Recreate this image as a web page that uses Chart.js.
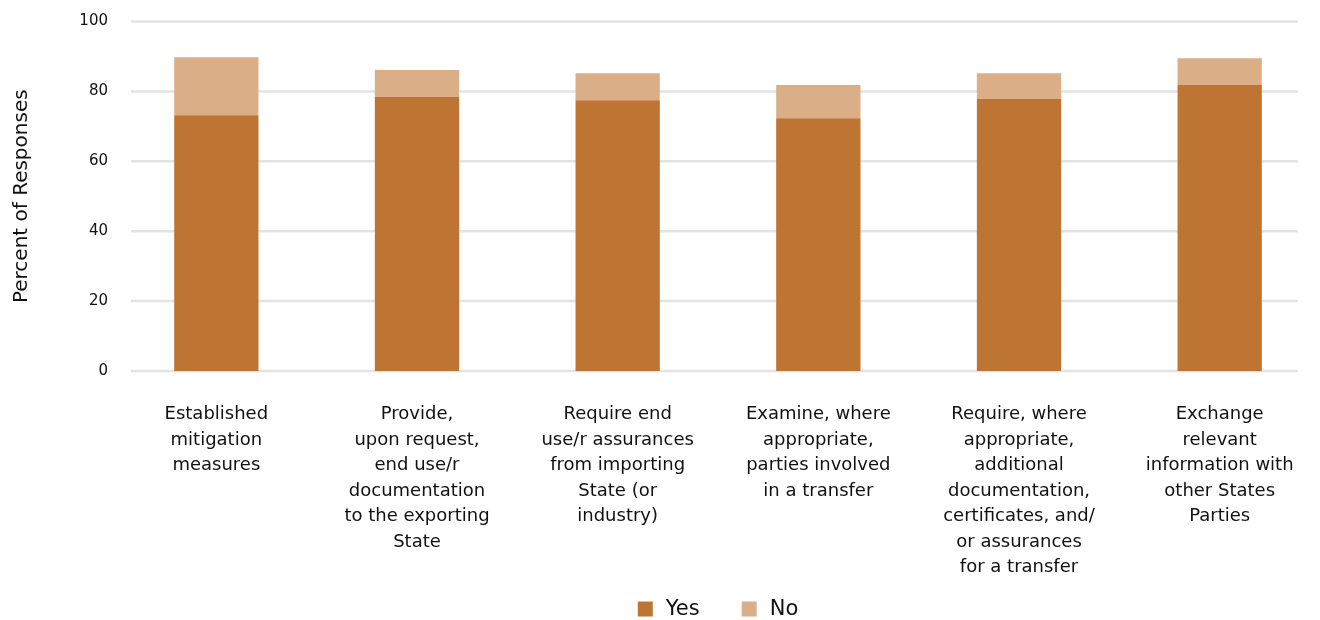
<!DOCTYPE html>
<html>
<head>
<meta charset="utf-8">
<script src="https://cdn.jsdelivr.net/npm/chart.js@4.4.0/dist/chart.umd.min.js"></script>
<style>
  html, body { margin: 0; padding: 0; background: #fff; }
</style>
</head>
<body>
<canvas id="chart" width="1320" height="620"></canvas>
<script>
// data
const categories = [
  ["Established", "mitigation", "measures"],
  ["Provide,", "upon request,", "end use/r", "documentation", "to the exporting", "State"],
  ["Require end", "use/r assurances", "from importing", "State (or", "industry)"],
  ["Examine, where", "appropriate,", "parties involved", "in a transfer"],
  ["Require, where", "appropriate,", "additional", "documentation,", "certificates, and/", "or assurances", "for a transfer"],
  ["Exchange", "relevant", "information with", "other States", "Parties"]
];
const yesValues = [73.2, 78.4, 77.5, 72.3, 77.8, 81.8];
const noValues = [16.6, 7.7, 7.7, 9.5, 7.4, 7.7];
const yTicks = [0, 20, 40, 60, 80, 100];

const FONT = "'DejaVu Sans', sans-serif";
const TEXT = "#111";

// horizontal grid lines, a bit inset from the chart area like the original
const gridPlugin = {
  id: "gridLines",
  beforeDatasetsDraw(chart) {
    const { ctx, chartArea } = chart;
    const y = chart.scales.y;
    ctx.save();
    ctx.strokeStyle = "#e3e3e3";
    ctx.lineWidth = 2.5;
    y.ticks.forEach((t) => {
      const py = y.getPixelForValue(t.value);
      ctx.beginPath();
      ctx.moveTo(chartArea.left + 15, py);
      ctx.lineTo(chartArea.right - 22, py);
      ctx.stroke();
    });
    ctx.restore();
  }
};

// simple legend under the labels
const legendPlugin = {
  id: "bottomLegend",
  afterDraw(chart) {
    const { ctx, chartArea } = chart;
    const items = chart.data.datasets;
    ctx.save();
    ctx.font = "21px " + FONT;
    ctx.textBaseline = "middle";
    const box = 15, gap = 13, spacing = 42;
    const widths = items.map((d) => box + gap + ctx.measureText(d.label).width);
    const total = widths.reduce((a, b) => a + b, 0) + spacing * (items.length - 1);
    let x = (chartArea.left + chartArea.right) / 2 - total / 2;
    const cy = chart.height - 11;
    items.forEach((d, i) => {
      ctx.fillStyle = d.backgroundColor;
      ctx.fillRect(x, cy - box / 2, box, box);
      ctx.fillStyle = TEXT;
      ctx.fillText(d.label, x + box + gap, cy + 1);
      x += widths[i] + spacing;
    });
    ctx.restore();
  }
};

new Chart(document.getElementById("chart").getContext("2d"), {
  type: "bar",
  data: {
    labels: categories,
    datasets: [
      {
        label: "Yes",
        data: yesValues,
        backgroundColor: "#BE7533",
        barPercentage: 0.42,
        categoryPercentage: 1.0,
      },
      {
        label: "No",
        data: noValues,
        backgroundColor: "#DAAE87",
        barPercentage: 0.42,
        categoryPercentage: 1.0,
      },
    ],
  },
  options: {
    responsive: false,
    animation: false,
    devicePixelRatio: 1,
    layout: { padding: { top: 21.5, right: 0, bottom: 8.5, left: 0 } },
    plugins: {
      legend: { display: false },
      tooltip: { enabled: false },
    },
    scales: {
      x: {
        stacked: true,
        grid: { display: false, drawTicks: false },
        border: { display: false },
        afterFit(scale) {
          scale.paddingLeft = 0;
          scale.paddingRight = 0;
        },
        ticks: {
          maxRotation: 0,
          autoSkip: false,
          padding: 31,
          color: TEXT,
          font: { family: FONT, size: 18, lineHeight: 25.5 / 18 },
        },
      },
      y: {
        stacked: true,
        min: 0,
        max: 100,
        afterBuildTicks(scale) {
          scale.ticks = yTicks.map((v) => ({ value: v }));
        },
        afterFit(scale) {
          scale.width = 116;
        },
        grid: { display: false, drawTicks: false },
        border: { display: false },
        ticks: {
          padding: 8,
          color: TEXT,
          font: { family: FONT, size: 15 },
        },
        title: {
          display: true,
          text: "Percent of Responses",
          color: TEXT,
          padding: { top: 10, bottom: 0 },
          font: { family: FONT, size: 20 },
        },
      },
    },
  },
  plugins: [gridPlugin, legendPlugin],
});
</script>
</body>
</html>
